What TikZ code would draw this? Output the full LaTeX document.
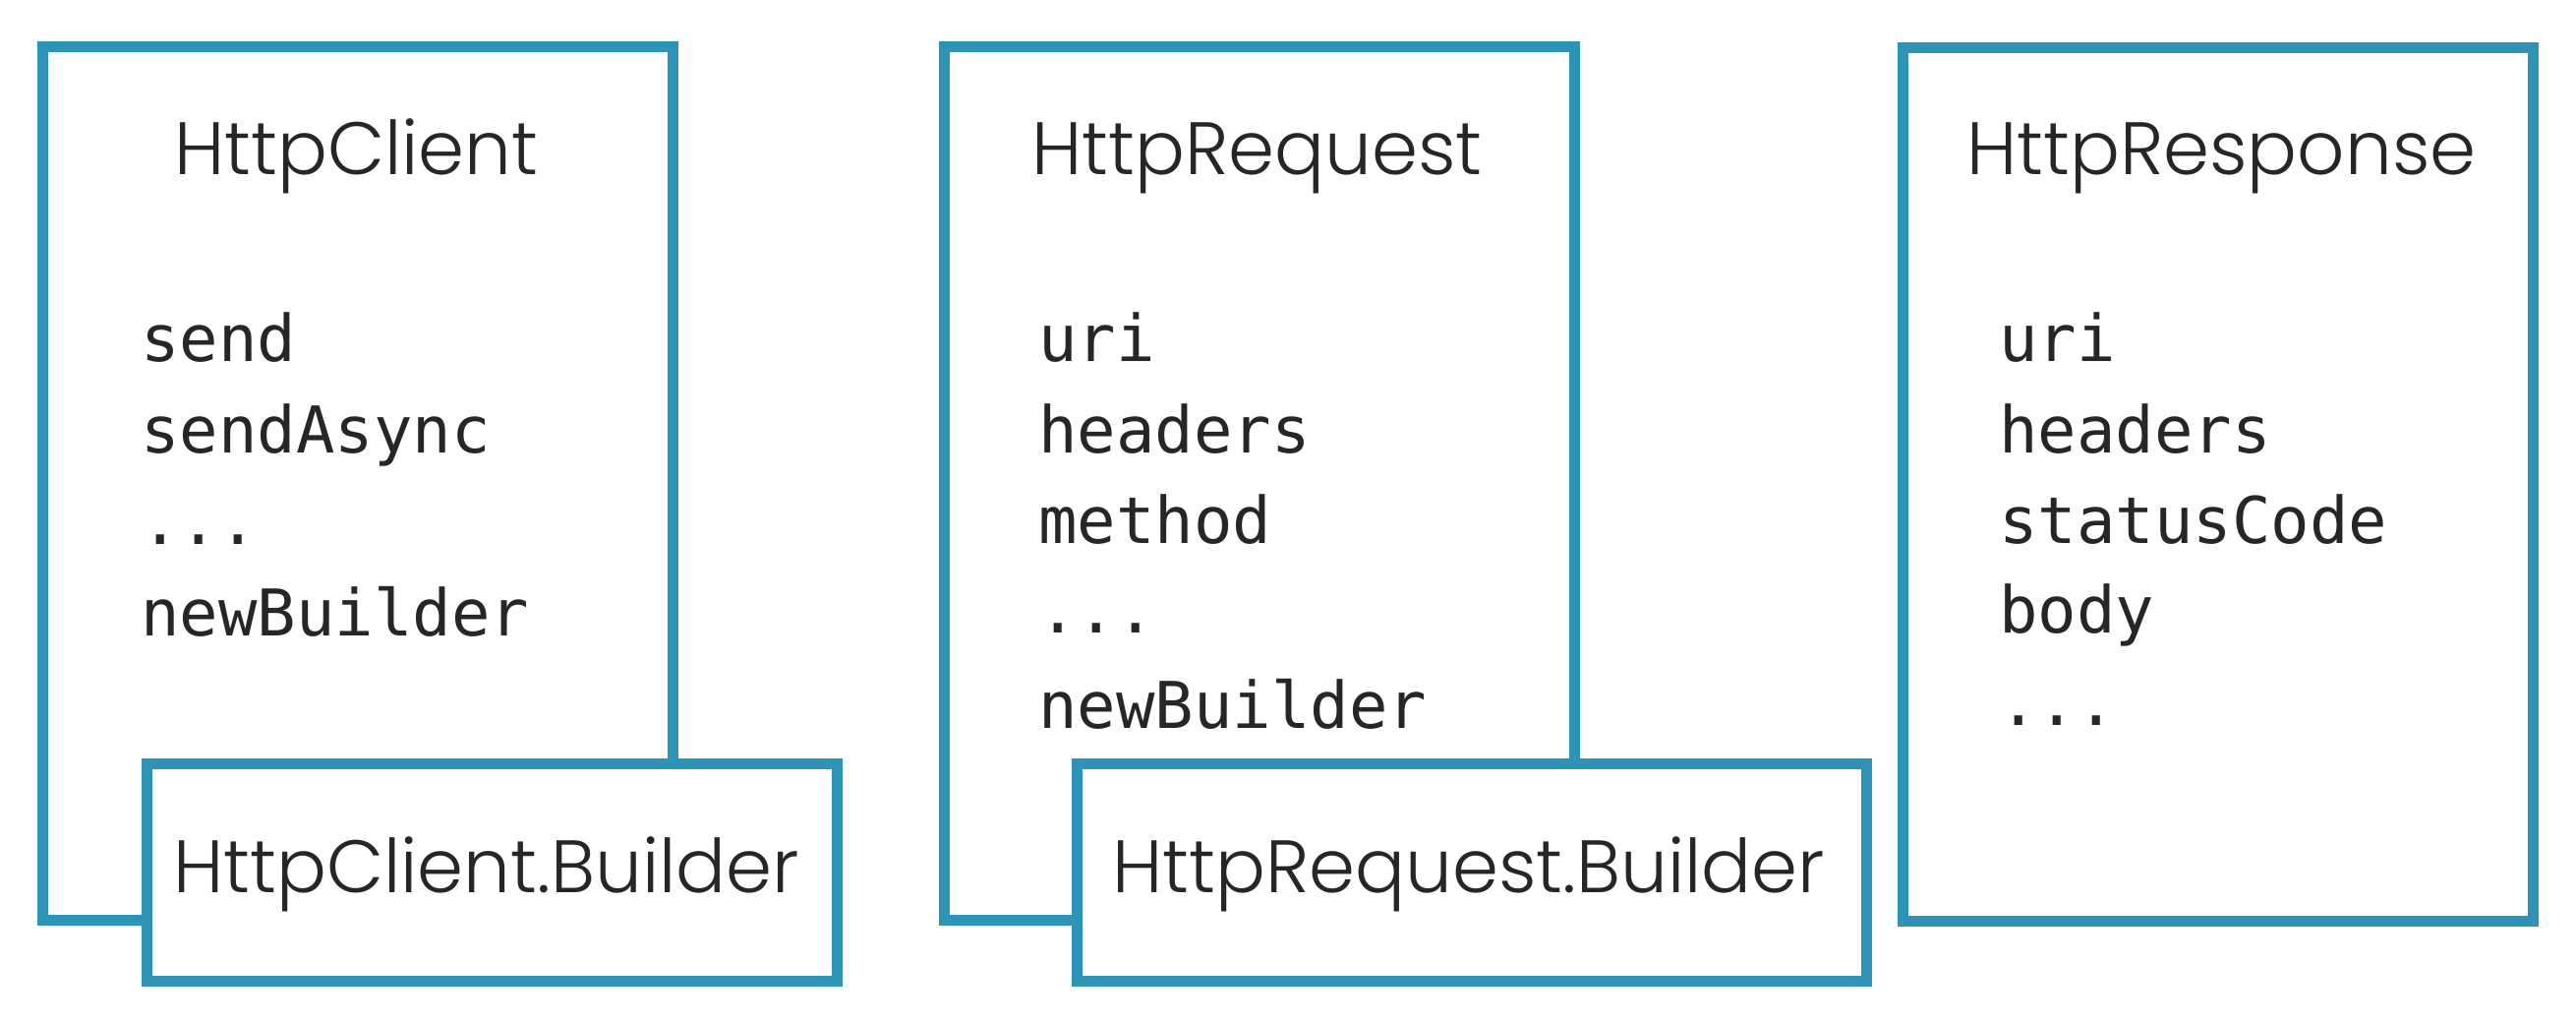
\documentclass[tikz,border=0pt]{standalone}
\usepackage{fontspec}
\newfontfamily\titlefont{Poppins Light}
\newfontfamily\codefont{DejaVu Sans Mono}
\definecolor{frame}{HTML}{2E94B6}
\definecolor{ink}{HTML}{262626}
\begin{document}
\begin{tikzpicture}[x=1pt,y=-1pt,
  panel/.style={draw=frame, line width=11pt, fill=white, rectangle, inner sep=0pt, minimum width=641pt, minimum height=887pt},
  builderbox/.style={draw=frame, line width=11pt, fill=white, rectangle, inner sep=0pt, minimum height=221pt},
  title/.style={anchor=base west, inner sep=0pt, text=ink, font=\titlefont\fontsize{75.5pt}{80pt}\selectfont},
  code/.style={anchor=base west, inner sep=0pt, text=ink, font=\codefont\fontsize{65.6pt}{70pt}\selectfont}]
\useasboundingbox (0,0) rectangle (2620,1041);
\fill[white] (0,0) rectangle (2620,1041);
% HttpClient
\node[panel] (client) at (364,491.5) {};
\node[title] (clientT) at (177,177) {HttpClient};
\node[code] (c1) at (143,367) {send};
\node[code] (c2) at (143,460) {sendAsync};
\node[code] (c3) at (143,553) {...};
\node[code] (c4) at (143,646) {newBuilder};
\node[builderbox, minimum width=702pt] (clientB) at (500,886.5) {};
\node[title] (clientBT) at (176,907) {HttpClient.Builder};
% HttpRequest
\node[panel] (req) at (1280.5,491.5) {};
\node[title] (reqT) at (1049,177) {HttpRequest};
\node[code] (r1) at (1056,367) {uri};
\node[code] (r2) at (1056,460) {headers};
\node[code] (r3) at (1056,552) {method};
\node[code] (r4) at (1056,643) {...};
\node[code] (r5) at (1056,740) {newBuilder};
\node[builderbox, minimum width=803pt] (reqB) at (1496.5,886.5) {};
\node[title] (reqBT) at (1131,907) {HttpRequest.Builder};
% HttpResponse
\node[panel] (resp) at (2255.5,492.5) {};
\node[title] (respT) at (2000,177) {HttpResponse};
\node[code] (p1) at (2033,367) {uri};
\node[code] (p2) at (2033,460) {headers};
\node[code] (p3) at (2033,552) {statusCode};
\node[code] (p4) at (2033,643) {body};
\node[code] (p5) at (2033,737) {...};
\end{tikzpicture}
\end{document}
